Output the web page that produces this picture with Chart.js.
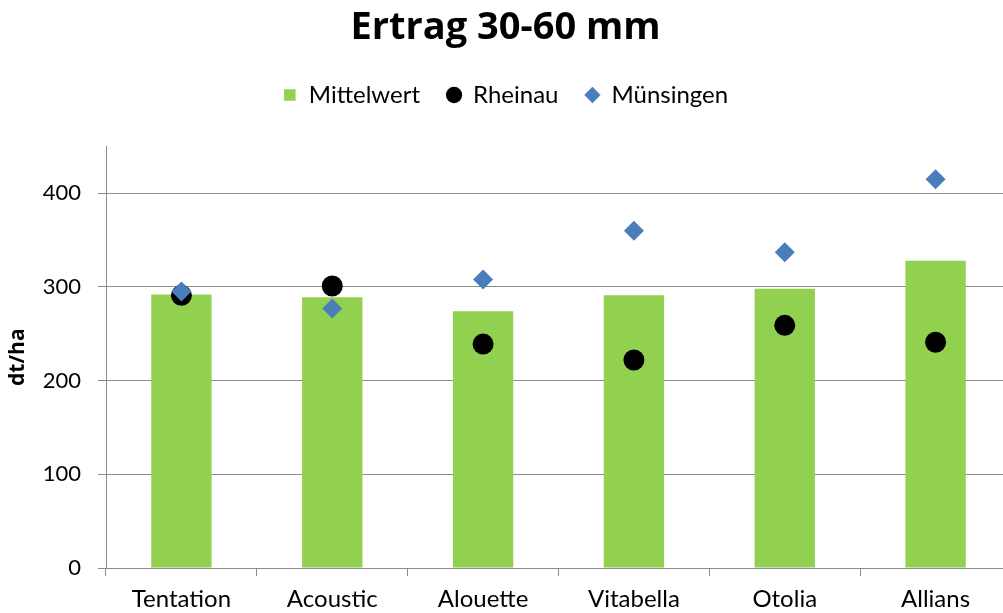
<!DOCTYPE html>
<html><head><meta charset="utf-8">
<script src="https://cdn.jsdelivr.net/npm/chart.js@4"></script>
<style>html,body{margin:0;padding:0;overflow:hidden;background:#fff}canvas{display:block}</style>
</head><body><canvas id="c" width="1011" height="613" style="width:1011px;height:613px"></canvas>
<script>
const categories = ['Tentation','Acoustic','Alouette','Vitabella','Otolia','Allians'];
const mittelwert = [292,289,274,291,298,328];
const rheinau = [291,301,239,222,259,241];
const muensingen = [295,277,308,360,337,415];
const yTicks = [0,100,200,300,400];

const FONT = "Lato, 'Open Sans', sans-serif";
const TFONT = "'Open Sans', Lato, sans-serif";
const GRID = '#8c8c8c';
const TITLE_SIZE = 38;

const legendSpace = {
  id:'legendSpace',
  beforeLayout(chart){
    const lg = chart.legend;
    if(lg && !lg._patched){
      const f = lg.fit;
      lg.fit = function(){ f.call(this); this.height = 90.4; };
      lg._patched = true;
    }
  }
};

new Chart(document.getElementById('c'), {
  type: 'bar',
  data: {
    labels: categories,
    datasets: [
      {label:'Mittelwert', data: mittelwert, backgroundColor:'#92D050', borderWidth:0,
       barPercentage:0.4, categoryPercentage:1, order:3},
      {type:'line', label:'Rheinau', data: rheinau, showLine:false, pointStyle:'circle',
       pointRadius:10.5, backgroundColor:'#000', borderColor:'#000', pointBorderWidth:0, order:2, clip:false},
      {type:'line', label:'Münsingen', data: muensingen, showLine:false, pointStyle:'rectRot',
       pointRadius:10, backgroundColor:'#4A7EBB', borderColor:'#4A7EBB', pointBorderWidth:0, order:1, clip:false}
    ]
  },
  plugins:[legendSpace],
  options: {
    responsive:false, maintainAspectRatio:false, animation:false, events:[], devicePixelRatio:1,
    layout:{autoPadding:false, padding:{top:0,left:0,right:0,bottom:0}},
    plugins:{
      tooltip:{enabled:false},
      title:{display:true, text:'Ertrag 30-60 mm', color:'#000',
        font:{family:TFONT, size:TITLE_SIZE, weight:'bold', lineHeight:1.2},
        padding:{top:28-0.6*TITLE_SIZE, bottom:28-0.6*TITLE_SIZE}},
      legend:{display:true, position:'top',
        labels:{usePointStyle:true, boxWidth:14, boxHeight:11.5, padding:27, color:'#000',
          font:{family:FONT, size:24},
          sort:(a,b)=>a.datasetIndex-b.datasetIndex,
          generateLabels:(chart)=>{
            const items = Chart.defaults.plugins.legend.labels.generateLabels(chart);
            items.forEach(it=>{
              if(it.datasetIndex===0){it.pointStyle='rect';}
              it.lineWidth=0;
            });
            return items;
          }}}
    },
    scales:{
      x:{
        grid:{display:true, drawOnChartArea:false, offset:true, tickLength:8, color:GRID},
        border:{color:GRID},
        ticks:{color:'#000', font:{family:FONT, size:24}, padding:9, maxRotation:0},
        afterFit:(s)=>{s.height=45; s.paddingLeft=0; s.paddingRight=0;}
      },
      y:{
        min:0, max:450,
        afterBuildTicks:(s)=>{s.ticks = yTicks.map(v=>({value:v}));},
        grid:{color:GRID, tickLength:8},
        border:{color:GRID},
        ticks:{color:'#000', font:{family:FONT, size:22}, padding:17},
        title:{display:true, text:'dt/ha', color:'#000', font:{family:TFONT, size:21, weight:'bold'}, padding:{top:5,bottom:0}},
        afterFit:(s)=>{s.width=106; s.paddingTop=0; s.paddingBottom=0;}
      }
    }
  }
});
</script></body></html>
